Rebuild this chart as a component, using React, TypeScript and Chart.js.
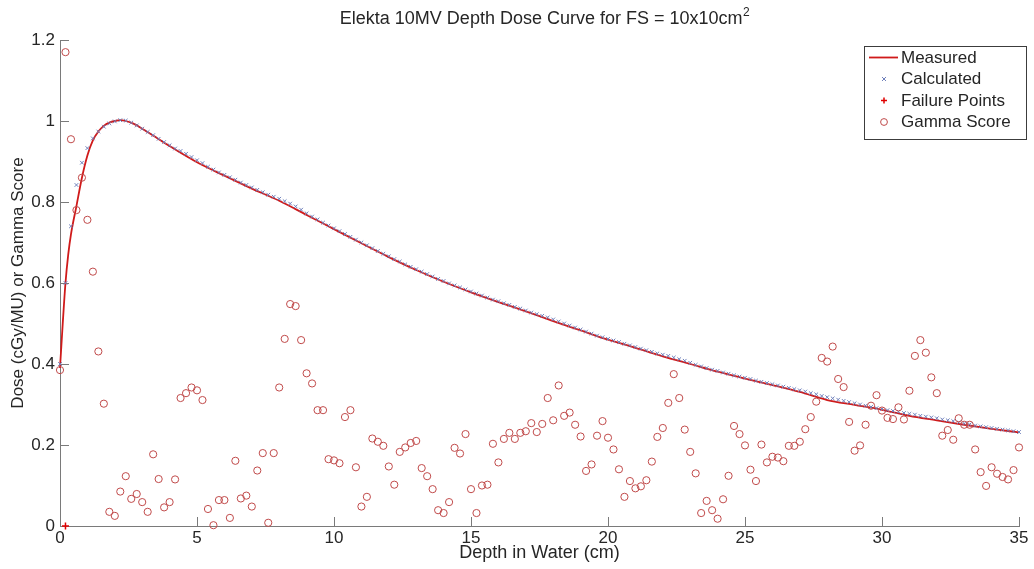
import React, { useEffect, useRef } from "react";
import { Chart, registerables } from "chart.js";

Chart.register(...registerables);

const TITLE = "Elekta 10MV Depth Dose Curve for FS = 10x10cm";
const TITLE_SUP = "2";
const X_LABEL = "Depth in Water (cm)";
const Y_LABEL = "Dose (cGy/MU) or Gamma Score";
const X_TICKS = [0, 5, 10, 15, 20, 25, 30, 35];
const X_TICK_LABELS = ["0", "5", "10", "15", "20", "25", "30", "35"];
const Y_TICKS = [0, 0.2, 0.4, 0.6, 0.8, 1, 1.2];
const Y_TICK_LABELS = ["0", "0.2", "0.4", "0.6", "0.8", "1", "1.2"];
const LEGEND_LABELS = ["Measured", "Calculated", "Failure Points", "Gamma Score"];

// Measured depth-dose curve (solid line)
const measuredDepth = [
  0, 0.1, 0.2, 0.3, 0.4, 0.6, 0.8, 1, 1.2, 1.4, 1.6, 1.8, 2, 2.2, 2.4, 2.7, 3, 3.5, 4,
  5, 6, 7, 8, 9, 10, 11, 12, 13, 14, 15, 16, 17, 18, 19, 20, 21, 22, 23, 24, 25, 26, 27,
  28, 29, 30, 31, 32, 33, 34, 35,
];
const measuredDose = [
  0.39, 0.5, 0.6, 0.67, 0.72, 0.79, 0.86, 0.915, 0.952, 0.974, 0.988, 0.996, 1.0, 1.002,
  1.0, 0.993, 0.981, 0.96, 0.938, 0.898, 0.865, 0.833, 0.803, 0.768, 0.733, 0.698, 0.664,
  0.632, 0.603, 0.577, 0.553, 0.53, 0.506, 0.483, 0.46, 0.44, 0.419, 0.4, 0.381, 0.364,
  0.348, 0.331, 0.311, 0.299, 0.287, 0.272, 0.261, 0.25, 0.24, 0.231,
];

// Sampling depths for calculated dose and gamma score
const sampleDepth = [
  0, 0.2, 0.4, 0.6, 0.8, 1, 1.2, 1.4, 1.6, 1.8,
  2, 2.2, 2.4, 2.6, 2.8, 3, 3.2, 3.4, 3.6, 3.8,
  4, 4.2, 4.4, 4.6, 4.8, 5, 5.2, 5.4, 5.6, 5.8,
  6, 6.2, 6.4, 6.6, 6.8, 7, 7.2, 7.4, 7.6, 7.8,
  8, 8.2, 8.4, 8.6, 8.8, 9, 9.2, 9.4, 9.6, 9.8,
  10, 10.2, 10.4, 10.6, 10.8, 11, 11.2, 11.4, 11.6, 11.8,
  12, 12.2, 12.4, 12.6, 12.8, 13, 13.2, 13.4, 13.6, 13.8,
  14, 14.2, 14.4, 14.6, 14.8, 15, 15.2, 15.4, 15.6, 15.8,
  16, 16.2, 16.4, 16.6, 16.8, 17, 17.2, 17.4, 17.6, 17.8,
  18, 18.2, 18.4, 18.6, 18.8, 19, 19.2, 19.4, 19.6, 19.8,
  20, 20.2, 20.4, 20.6, 20.8, 21, 21.2, 21.4, 21.6, 21.8,
  22, 22.2, 22.4, 22.6, 22.8, 23, 23.2, 23.4, 23.6, 23.8,
  24, 24.2, 24.4, 24.6, 24.8, 25, 25.2, 25.4, 25.6, 25.8,
  26, 26.2, 26.4, 26.6, 26.8, 27, 27.2, 27.4, 27.6, 27.8,
  28, 28.2, 28.4, 28.6, 28.8, 29, 29.2, 29.4, 29.6, 29.8,
  30, 30.2, 30.4, 30.6, 30.8, 31, 31.2, 31.4, 31.6, 31.8,
  32, 32.2, 32.4, 32.6, 32.8, 33, 33.2, 33.4, 33.6, 33.8,
  34, 34.2, 34.4, 34.6, 34.8, 35,
];

const calculatedDose = [
  0.4, 0.6, 0.74, 0.842, 0.897, 0.933, 0.957, 0.974, 0.986, 0.994,
  0.999, 1.002, 1.001, 0.996, 0.989, 0.981, 0.973, 0.965, 0.956, 0.948,
  0.94, 0.932, 0.926, 0.919, 0.911, 0.903, 0.896, 0.887, 0.88, 0.873,
  0.867, 0.861, 0.855, 0.848, 0.842, 0.836, 0.83, 0.824, 0.818, 0.813,
  0.808, 0.802, 0.796, 0.789, 0.781, 0.772, 0.764, 0.757, 0.749, 0.742,
  0.735, 0.728, 0.721, 0.714, 0.707, 0.7, 0.693, 0.686, 0.679, 0.672,
  0.666, 0.659, 0.653, 0.646, 0.64, 0.634, 0.628, 0.622, 0.616, 0.61,
  0.605, 0.599, 0.594, 0.589, 0.584, 0.579, 0.574, 0.569, 0.564, 0.559,
  0.555, 0.55, 0.546, 0.541, 0.537, 0.532, 0.527, 0.523, 0.519, 0.515,
  0.51, 0.505, 0.5, 0.495, 0.49, 0.485, 0.48, 0.475, 0.47, 0.466,
  0.462, 0.458, 0.454, 0.45, 0.446, 0.442, 0.438, 0.434, 0.43, 0.426,
  0.423, 0.42, 0.416, 0.412, 0.408, 0.403, 0.398, 0.394, 0.39, 0.386,
  0.383, 0.379, 0.376, 0.372, 0.369, 0.366, 0.363, 0.359, 0.356, 0.353,
  0.35, 0.347, 0.344, 0.341, 0.338, 0.335, 0.332, 0.328, 0.325, 0.321,
  0.318, 0.315, 0.312, 0.309, 0.306, 0.303, 0.3, 0.297, 0.294, 0.291,
  0.289, 0.286, 0.284, 0.282, 0.279, 0.277, 0.275, 0.272, 0.27, 0.268,
  0.266, 0.263, 0.261, 0.259, 0.256, 0.253, 0.251, 0.248, 0.246, 0.244,
  0.242, 0.24, 0.238, 0.236, 0.234, 0.232,
];

const gammaScore = [
  0.385, 1.17, 0.955, 0.78, 0.86, 0.756, 0.628, 0.431, 0.302, 0.035,
  0.025, 0.085, 0.123, 0.067, 0.079, 0.059, 0.035, 0.177, 0.116, 0.046,
  0.059, 0.115, 0.316, 0.328, 0.342, 0.335, 0.311, 0.042, 0.002, 0.064,
  0.064, 0.02, 0.161, 0.068, 0.075, 0.048, 0.137, 0.18, 0.008, 0.18,
  0.342, 0.462, 0.548, 0.543, 0.459, 0.377, 0.352, 0.286, 0.286, 0.165,
  0.162, 0.155, 0.269, 0.286, 0.145, 0.048, 0.072, 0.216, 0.208, 0.198,
  0.147, 0.102, 0.183, 0.194, 0.205, 0.21, 0.143, 0.123, 0.091, 0.039,
  0.032, 0.059, 0.193, 0.179, 0.227, 0.091, 0.032, 0.1, 0.102, 0.203,
  0.157, 0.215, 0.23, 0.215, 0.23, 0.234, 0.254, 0.232, 0.252, 0.316,
  0.261, 0.347, 0.272, 0.28, 0.25, 0.221, 0.136, 0.152, 0.223, 0.259,
  0.218, 0.189, 0.14, 0.072, 0.111, 0.093, 0.098, 0.113, 0.159, 0.22,
  0.242, 0.304, 0.375, 0.316, 0.238, 0.183, 0.13, 0.032, 0.062, 0.039,
  0.018, 0.066, 0.124, 0.247, 0.227, 0.199, 0.139, 0.111, 0.201, 0.157,
  0.171, 0.169, 0.16, 0.198, 0.198, 0.208, 0.239, 0.269, 0.307, 0.415,
  0.406, 0.443, 0.363, 0.343, 0.257, 0.186, 0.199, 0.25, 0.297, 0.323,
  0.285, 0.267, 0.264, 0.293, 0.263, 0.334, 0.42, 0.459, 0.428, 0.367,
  0.328, 0.223, 0.237, 0.213, 0.266, 0.25, 0.25, 0.189, 0.133, 0.099,
  0.145, 0.129, 0.121, 0.115, 0.138, 0.194,
];

const failureDepth = [0.2];
const failureValue = [0];

const FONT = '"Liberation Sans", Arial, Helvetica, sans-serif';
const AXIS_COLOR = "#7a7a7a";
const TEXT_COLOR = "#262626";
const MEASURED_COLOR = "#d01a1a";
const CALC_COLOR = "#6f80bb";
const FAIL_COLOR = "#e00000";
const GAMMA_COLOR = "#c04a4a";

const decorPlugin = {
  id: "decor",
  beforeDatasetsDraw(chart: any) {
    const { ctx, chartArea, scales } = chart;
    ctx.save();
    ctx.strokeStyle = AXIS_COLOR;
    ctx.lineWidth = 1;
    ctx.beginPath();
    X_TICKS.forEach((v) => {
      const px = Math.round(scales.x.getPixelForValue(v)) + 0.5;
      ctx.moveTo(px, chartArea.bottom);
      ctx.lineTo(px, chartArea.bottom - 9);
    });
    Y_TICKS.forEach((v) => {
      const py = Math.round(scales.y.getPixelForValue(v)) + 0.5;
      ctx.moveTo(chartArea.left, py);
      ctx.lineTo(chartArea.left + 9, py);
    });
    ctx.stroke();
    ctx.restore();
  },
  afterDraw(chart: any) {
    const { ctx, chartArea } = chart;
    ctx.save();
    // Title with superscript
    const mainFont = `18px ${FONT}`;
    const supFont = `12px ${FONT}`;
    ctx.font = mainFont;
    const w1 = ctx.measureText(TITLE).width;
    ctx.font = supFont;
    const w2 = ctx.measureText(TITLE_SUP).width;
    const cx = (chartArea.left + chartArea.right) / 2 + 5;
    const sx = cx - (w1 + w2) / 2;
    ctx.fillStyle = TEXT_COLOR;
    ctx.textBaseline = "alphabetic";
    ctx.textAlign = "left";
    ctx.font = mainFont;
    ctx.fillText(TITLE, sx, 24);
    ctx.font = supFont;
    ctx.fillText(TITLE_SUP, sx + w1 + 0.5, 16);

    // Legend box
    const bx = 864.5, by = 46.5, bw = 162, bh = 93;
    ctx.fillStyle = "#ffffff";
    ctx.fillRect(bx, by, bw, bh);
    ctx.strokeStyle = "#3c3c3c";
    ctx.lineWidth = 1;
    ctx.strokeRect(bx, by, bw, bh);
    const rows = [57.5, 79, 100.5, 122];
    const mx = 884;
    // Measured line sample
    ctx.strokeStyle = MEASURED_COLOR;
    ctx.lineWidth = 1.8;
    ctx.beginPath();
    ctx.moveTo(869, rows[0]);
    ctx.lineTo(898, rows[0]);
    ctx.stroke();
    // Calculated marker (x)
    ctx.strokeStyle = CALC_COLOR;
    ctx.lineWidth = 1;
    ctx.beginPath();
    ctx.moveTo(mx - 2, rows[1] - 2);
    ctx.lineTo(mx + 2, rows[1] + 2);
    ctx.moveTo(mx + 2, rows[1] - 2);
    ctx.lineTo(mx - 2, rows[1] + 2);
    ctx.stroke();
    // Failure marker (+)
    ctx.strokeStyle = FAIL_COLOR;
    ctx.lineWidth = 1.5;
    ctx.beginPath();
    ctx.moveTo(mx - 3, rows[2]);
    ctx.lineTo(mx + 3, rows[2]);
    ctx.moveTo(mx, rows[2] - 3);
    ctx.lineTo(mx, rows[2] + 3);
    ctx.stroke();
    // Gamma marker (o)
    ctx.strokeStyle = GAMMA_COLOR;
    ctx.lineWidth = 1;
    ctx.beginPath();
    ctx.arc(mx, rows[3], 3.4, 0, Math.PI * 2);
    ctx.stroke();
    // Legend labels
    ctx.fillStyle = TEXT_COLOR;
    ctx.font = `17px ${FONT}`;
    ctx.textBaseline = "middle";
    LEGEND_LABELS.forEach((t, i) => ctx.fillText(t, 901, rows[i] + 0.5));
    ctx.restore();
  },
};

export default function App() {
  const ref = useRef<HTMLCanvasElement>(null);

  useEffect(() => {
    const canvas = ref.current;
    if (!canvas) return;
    const chart = new Chart(canvas, {
      type: "scatter",
      data: {
        datasets: [
          {
            label: LEGEND_LABELS[3],
            data: sampleDepth.map((d, i) => ({ x: d, y: gammaScore[i] })),
            pointStyle: "circle",
            pointRadius: 3.6,
            borderColor: GAMMA_COLOR,
            backgroundColor: "rgba(0,0,0,0)",
            borderWidth: 1,
            showLine: false,
            clip: false,
            order: 0,
          },
          {
            label: LEGEND_LABELS[2],
            data: failureDepth.map((d, i) => ({ x: d, y: failureValue[i] })),
            pointStyle: "cross",
            pointRadius: 3.5,
            borderColor: FAIL_COLOR,
            backgroundColor: FAIL_COLOR,
            borderWidth: 1.5,
            showLine: false,
            clip: false,
            order: 1,
          },
          {
            label: LEGEND_LABELS[1],
            data: sampleDepth.map((d, i) => ({ x: d, y: calculatedDose[i] })),
            pointStyle: "crossRot",
            pointRadius: 2.6,
            borderColor: CALC_COLOR,
            backgroundColor: CALC_COLOR,
            borderWidth: 1,
            showLine: false,
            clip: false,
            order: 2,
          },
          {
            label: LEGEND_LABELS[0],
            data: measuredDepth.map((d, i) => ({ x: d, y: measuredDose[i] })),
            showLine: true,
            borderColor: MEASURED_COLOR,
            backgroundColor: MEASURED_COLOR,
            borderWidth: 1.8,
            pointRadius: 0,
            cubicInterpolationMode: "monotone",
            clip: false,
            order: 3,
          },
        ],
      },
      options: {
        animation: false,
        responsive: false,
        devicePixelRatio: 1,
        events: [],
        layout: { padding: { top: 40, right: 15, left: 0, bottom: 0 } },
        plugins: {
          legend: { display: false },
          tooltip: { enabled: false },
          title: { display: false },
        },
        scales: {
          x: {
            type: "linear",
            position: "bottom",
            min: 0,
            max: 35,
            afterBuildTicks: (s: any) => {
              s.ticks = X_TICKS.map((v) => ({ value: v }));
            },
            afterFit: (s: any) => {
              s.height = 43;
            },
            ticks: {
              padding: 2,
              autoSkip: false,
              maxRotation: 0,
              color: TEXT_COLOR,
              font: { family: FONT, size: 17 },
              callback: (_v: any, i: number) => X_TICK_LABELS[i],
            },
            grid: { display: false, drawTicks: false },
            border: { display: true, color: AXIS_COLOR, width: 1 },
            title: {
              display: true,
              text: X_LABEL,
              color: TEXT_COLOR,
              font: { family: FONT, size: 18, lineHeight: 1.2 },
              padding: { top: 0, bottom: 5 },
            },
          },
          y: {
            type: "linear",
            position: "left",
            min: 0,
            max: 1.2,
            afterBuildTicks: (s: any) => {
              s.ticks = Y_TICKS.map((v) => ({ value: v }));
            },
            afterFit: (s: any) => {
              s.width = 60;
            },
            ticks: {
              padding: 5,
              autoSkip: false,
              color: TEXT_COLOR,
              font: { family: FONT, size: 17 },
              callback: (_v: any, i: number) => Y_TICK_LABELS[i],
            },
            grid: { display: false, drawTicks: false },
            border: { display: true, color: AXIS_COLOR, width: 1 },
            title: {
              display: true,
              text: Y_LABEL,
              color: TEXT_COLOR,
              font: { family: FONT, size: 17, lineHeight: 1.2 },
              padding: { top: 8, bottom: 0 },
            },
          },
        },
      },
      plugins: [decorPlugin],
    } as any);
    return () => chart.destroy();
  }, []);

  return (
    <div
      style={{
        position: "absolute",
        left: 0,
        top: 0,
        width: 1034,
        height: 569,
        background: "#ffffff",
      }}
    >
      <canvas
        ref={ref}
        width={1034}
        height={569}
        style={{ display: "block", width: 1034, height: 569 }}
      />
    </div>
  );
}
